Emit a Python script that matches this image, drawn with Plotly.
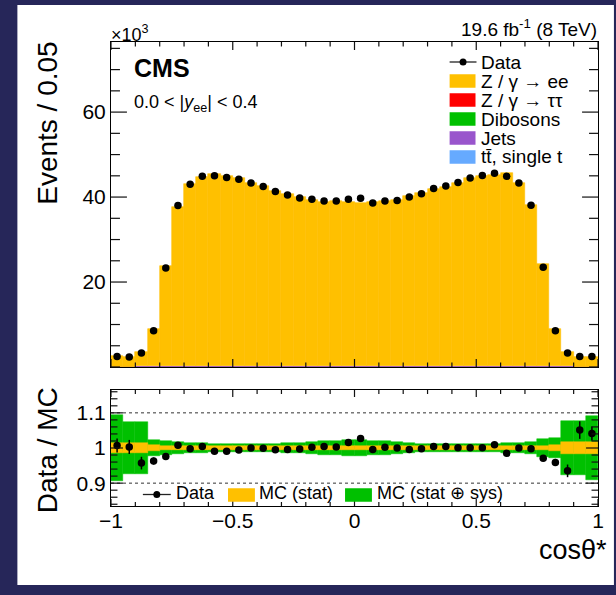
import plotly.graph_objects as go

# ---------------- binning ----------------
n_bins = 40
bin_width = 0.05
bin_centers = [round(-1.0 + bin_width * (i + 0.5), 3) for i in range(n_bins)]

# ---------------- main panel (events, in units of 10^3) ----------------
data_k = [2.50, 2.35, 3.30, 8.55, 23.3, 38.0, 43.0, 44.9, 45.0, 44.6,
          44.2, 43.3, 42.5, 41.3, 40.5, 39.8, 39.5, 39.1, 39.1, 39.5,
          39.7, 38.6, 39.1, 39.2, 40.0, 40.8, 42.0, 42.6, 43.4, 44.5,
          45.1, 45.6, 44.9, 43.3, 38.1, 23.5, 8.55, 3.30, 2.50, 2.50]

mc_total_k = [2.48, 2.34, 3.45, 8.88, 23.87, 37.70, 43.09, 44.72, 45.41, 45.01,
              44.47, 43.30, 42.54, 41.51, 40.66, 39.92, 39.42, 38.94, 38.98, 38.88,
              38.66, 38.76, 39.02, 39.20, 40.16, 40.88, 41.83, 42.43, 43.36, 44.46,
              45.05, 45.19, 45.58, 43.30, 38.18, 24.20, 8.92, 3.53, 2.38, 2.40]

tautau_k = [0.01, 0.01, 0.01, 0.02, 0.03, 0.03, 0.03, 0.03, 0.03, 0.03,
            0.03, 0.03, 0.03, 0.03, 0.03, 0.03, 0.03, 0.03, 0.03, 0.03,
            0.03, 0.03, 0.03, 0.03, 0.03, 0.03, 0.03, 0.03, 0.03, 0.03,
            0.03, 0.03, 0.03, 0.03, 0.03, 0.03, 0.02, 0.01, 0.01, 0.01]
dibosons_k = [0.02, 0.02, 0.03, 0.04, 0.05, 0.06, 0.06, 0.06, 0.06, 0.06,
              0.06, 0.06, 0.06, 0.06, 0.06, 0.06, 0.06, 0.06, 0.06, 0.06,
              0.06, 0.06, 0.06, 0.06, 0.06, 0.06, 0.06, 0.06, 0.06, 0.06,
              0.06, 0.06, 0.06, 0.06, 0.06, 0.05, 0.04, 0.03, 0.02, 0.02]
ttbar_k = [0.03, 0.03, 0.04, 0.05, 0.06, 0.07, 0.07, 0.08, 0.08, 0.08,
           0.08, 0.08, 0.08, 0.08, 0.08, 0.08, 0.08, 0.08, 0.08, 0.08,
           0.08, 0.08, 0.08, 0.08, 0.08, 0.08, 0.08, 0.08, 0.08, 0.08,
           0.08, 0.08, 0.08, 0.08, 0.07, 0.06, 0.05, 0.04, 0.03, 0.03]
jets_k = [0.04, 0.04, 0.04, 0.05, 0.06, 0.06, 0.06, 0.06, 0.06, 0.06,
          0.06, 0.06, 0.06, 0.06, 0.06, 0.06, 0.06, 0.06, 0.06, 0.06,
          0.06, 0.06, 0.06, 0.06, 0.06, 0.06, 0.06, 0.06, 0.06, 0.06,
          0.06, 0.06, 0.06, 0.06, 0.06, 0.06, 0.05, 0.04, 0.04, 0.04]

# ---------------- ratio panel ----------------
ratio = [1.007, 1.003, 0.957, 0.963, 0.976, 1.008, 0.998, 1.004, 0.991, 0.991,
         0.994, 1.000, 0.999, 0.995, 0.996, 0.997, 1.002, 1.004, 1.003, 1.016,
         1.027, 0.996, 1.002, 1.000, 0.996, 0.998, 1.004, 1.004, 1.001, 1.001,
         1.001, 1.009, 0.985, 1.000, 0.998, 0.971, 0.959, 0.935, 1.051, 1.041]
ratio_err = [0.020, 0.020, 0.018, 0.010, 0.006, 0.005, 0.004, 0.004, 0.004, 0.004,
             0.004, 0.004, 0.004, 0.004, 0.004, 0.004, 0.004, 0.004, 0.004, 0.004,
             0.004, 0.004, 0.004, 0.004, 0.004, 0.004, 0.004, 0.004, 0.004, 0.004,
             0.004, 0.004, 0.004, 0.004, 0.005, 0.007, 0.010, 0.018, 0.025, 0.020]
band_sys_hw = [0.094, 0.075, 0.075, 0.024, 0.020, 0.017, 0.015, 0.013, 0.012, 0.011,
               0.011, 0.011, 0.011, 0.012, 0.013, 0.014, 0.016, 0.019, 0.021, 0.022,
               0.022, 0.021, 0.019, 0.016, 0.014, 0.012, 0.011, 0.010, 0.010, 0.010,
               0.010, 0.011, 0.013, 0.015, 0.018, 0.025, 0.028, 0.078, 0.078, 0.090]
band_stat_hw = [0.015, 0.015, 0.015, 0.008, 0.006, 0.005, 0.005, 0.005, 0.005, 0.005,
                0.005, 0.005, 0.005, 0.005, 0.005, 0.005, 0.005, 0.005, 0.005, 0.005,
                0.005, 0.005, 0.005, 0.005, 0.005, 0.005, 0.005, 0.005, 0.005, 0.005,
                0.005, 0.005, 0.005, 0.005, 0.005, 0.007, 0.009, 0.016, 0.016, 0.016]
ratio_ref_lines = [0.9, 1.1]

# ---------------- axis ticks ----------------
x_major = [-1.0, -0.5, 0.0, 0.5, 1.0]
y_main_major = [20, 40, 60]
y_ratio_major = [0.9, 1.0, 1.1]
X_RANGE = [-1, 1]
Y_MAIN_RANGE = [0, 76.5]
Y_RATIO_RANGE = [0.835, 1.165]

# ---------------- style ----------------
FONT = "Liberation Sans"
C_EE = "#ffc000"
C_TT = "#ff0000"
C_DIB = "#00c000"
C_JETS = "#9955cc"
C_TOP = "#66aaff"
C_BAND_SYS = "#00c000"
C_BAND_STAT = "#ffc000"
C_TICK = "#111111"

W, H = 616, 595
ML, MR, MT, MB = 111, 16, 42, 89
PW, PH = W - ML - MR, H - MT - MB
MAIN_TOP, MAIN_BOT = 42, 367
RAT_TOP, RAT_BOT = 390, 506


def fx(px):
    return (px - ML) / PW


def fy(py):
    return (H - MB - py) / PH


fig = go.Figure()

# stacked simulation (bottom to top)
components = [
    ("Z / γ → ττ", tautau_k, C_TT),
    ("Dibosons", dibosons_k, C_DIB),
    ("tt̄, single t", ttbar_k, C_TOP),
    ("Jets", jets_k, C_JETS),
]
base = [0.0] * n_bins
for name, vals, col in components:
    fig.add_trace(go.Bar(x=bin_centers, y=vals, base=base, width=bin_width,
                         marker=dict(color=col, line=dict(width=0)),
                         name=name, showlegend=False, xaxis="x", yaxis="y"))
    base = [b + v for b, v in zip(base, vals)]

zee_k = [t - b for t, b in zip(mc_total_k, base)]
fig.add_trace(go.Bar(x=bin_centers, y=zee_k, base=base, width=bin_width,
                     marker=dict(color=C_EE, line=dict(color=C_EE, width=0.6)),
                     name="Z / γ → ee", showlegend=False, xaxis="x", yaxis="y"))

fig.add_trace(go.Scatter(x=bin_centers, y=data_k, mode="markers",
                         marker=dict(color="black", size=7.5),
                         name="Data", showlegend=False, xaxis="x", yaxis="y"))

# ratio bands
fig.add_trace(go.Bar(x=bin_centers, y=[2 * h for h in band_sys_hw],
                     base=[1 - h for h in band_sys_hw], width=bin_width,
                     marker=dict(color=C_BAND_SYS, line=dict(color=C_BAND_SYS, width=0.5)),
                     showlegend=False, xaxis="x2", yaxis="y2"))
fig.add_trace(go.Bar(x=bin_centers, y=[2 * h for h in band_stat_hw],
                     base=[1 - h for h in band_stat_hw], width=bin_width,
                     marker=dict(color=C_BAND_STAT, line=dict(color=C_BAND_STAT, width=0.5)),
                     showlegend=False, xaxis="x2", yaxis="y2"))
fig.add_trace(go.Scatter(x=bin_centers, y=ratio, mode="markers",
                         marker=dict(color="black", size=7.5),
                         error_y=dict(type="data", array=ratio_err, thickness=1.5,
                                      width=0, color="black"),
                         showlegend=False, xaxis="x2", yaxis="y2"))

shapes = []
# white page behind the canvas
shapes.append(dict(type="rect", xref="paper", yref="paper",
                   x0=fx(17), x1=fx(W), y0=fy(585), y1=fy(5),
                   fillcolor="white", line=dict(width=0), layer="below"))
# dotted reference lines in the ratio panel
for v in ratio_ref_lines:
    shapes.append(dict(type="line", xref="x2", yref="y2", x0=-1, x1=1, y0=v, y1=v,
                       line=dict(color="#333333", width=1, dash="dot"), layer="above"))


def px_line(x0, y0, x1, y1):
    shapes.append(dict(type="line", xref="paper", yref="paper",
                       x0=fx(x0), x1=fx(x1), y0=fy(y0), y1=fy(y1),
                       line=dict(color=C_TICK, width=1.2)))


def frame_xticks(top_px, bot_px, step, majors, len_major, len_minor):
    """Inside ticks on the bottom and top edges of a panel."""
    n = int(round((X_RANGE[1] - X_RANGE[0]) / step))
    for i in range(n + 1):
        v = round(X_RANGE[0] + i * step, 4)
        ln = len_major if any(abs(v - m) < 1e-9 for m in majors) else len_minor
        xp = ML + (v - X_RANGE[0]) / (X_RANGE[1] - X_RANGE[0]) * PW
        px_line(xp, bot_px, xp, bot_px - ln)
        px_line(xp, top_px, xp, top_px + ln)


def frame_yticks(top_px, bot_px, rng, start, step, majors, len_major, len_minor):
    """Inside ticks on the left and right edges of a panel."""
    v = start
    while v <= rng[1] + 1e-9:
        vv = round(v, 4)
        if vv >= rng[0]:
            ln = len_major if any(abs(vv - m) < 1e-9 for m in majors) else len_minor
            yp = bot_px - (vv - rng[0]) / (rng[1] - rng[0]) * (bot_px - top_px)
            px_line(ML, yp, ML + ln, yp)
            px_line(ML + PW, yp, ML + PW - ln, yp)
        v += step


frame_xticks(MAIN_TOP, MAIN_BOT, 0.1, x_major, 8, 4.5)
frame_xticks(RAT_TOP, RAT_BOT, 0.1, x_major, 7, 4)
frame_yticks(MAIN_TOP, MAIN_BOT, Y_MAIN_RANGE, 0, 5, y_main_major, 16, 9)
frame_yticks(RAT_TOP, RAT_BOT, Y_RATIO_RANGE, 0.84, 0.02, y_ratio_major, 12, 6.5)

annotations = []


def text(px, py, s, size, xanchor="left", yanchor="middle", angle=0, **kw):
    annotations.append(dict(xref="paper", yref="paper", x=fx(px), y=fy(py), text=s,
                            showarrow=False, xanchor=xanchor, yanchor=yanchor,
                            textangle=angle, font=dict(family=FONT, size=size, color="black"),
                            **kw))


def legend_box(x0, x1, yc, h, col):
    shapes.append(dict(type="rect", xref="paper", yref="paper",
                       x0=fx(x0), x1=fx(x1), y0=fy(yc + h / 2), y1=fy(yc - h / 2),
                       fillcolor=col, line=dict(width=0)))


def legend_data(x0, x1, yc, r=3.5):
    shapes.append(dict(type="line", xref="paper", yref="paper",
                       x0=fx(x0), x1=fx(x1), y0=fy(yc), y1=fy(yc),
                       line=dict(color="#222222", width=1.3)))
    xc = (x0 + x1) / 2
    shapes.append(dict(type="circle", xref="paper", yref="paper",
                       x0=fx(xc - r), x1=fx(xc + r), y0=fy(yc + r), y1=fy(yc - r),
                       fillcolor="black", line=dict(width=0)))


# main legend
leg_rows = [62, 81, 100, 119, 138, 157]
legend_data(451, 478, leg_rows[0])
text(481, leg_rows[0], "Data", 19)
leg_items = [("Z / γ → ee", C_EE), ("Z / γ → ττ", C_TT), ("Dibosons", C_DIB),
             ("Jets", C_JETS), ("tt̄, single t", C_TOP)]
for (lbl, col), yc in zip(leg_items, leg_rows[1:]):
    legend_box(451, 477, yc, 13.5, col)
    text(481, yc, lbl, 19)

# ratio legend
legend_data(143, 171, 494.5)
text(174, 493, "Data", 18)
legend_box(228.5, 255.5, 495, 13.5, C_BAND_STAT)
text(258, 493, "MC (stat)", 18)
legend_box(346, 373, 495, 13.5, C_BAND_SYS)
text(376, 493, "MC (stat ⊕ sys)", 18)

# labels
text(109, 33, "×10<sup>3</sup>", 18)
text(601, 28, "19.6 fb<sup>-1</sup> (8 TeV)", 19, xanchor="right")
text(132, 68, "<b>CMS</b>", 25)
text(132, 103, "0.0 < |<i>y</i><sub>ee</sub>| < 0.4", 18)

# axis titles
text(47, 40, "Events / 0.05", 28, xanchor="center", yanchor="top", angle=-90)
text(47, 385, "Data / MC", 28, xanchor="center", yanchor="top", angle=-90)
text(611, 550, "cosθ*", 27, xanchor="right", yanchor="middle")

axis_common = dict(showline=True, linecolor="black", linewidth=1, mirror=True,
                   ticks="", showgrid=False, zeroline=False,
                   tickfont=dict(family=FONT, size=21, color="black"))

fig.update_layout(
    width=W, height=H,
    margin=dict(l=ML, r=MR, t=MT, b=MB),
    paper_bgcolor="#262659",
    plot_bgcolor="white",
    barmode="overlay",
    bargap=0,
    showlegend=False,
    shapes=shapes,
    annotations=annotations,
    xaxis=dict(domain=[0, 1], anchor="y", range=X_RANGE, matches="x2",
               tickvals=x_major, showticklabels=False, **axis_common),
    yaxis=dict(domain=[(H - MB - MAIN_BOT) / PH, 1], anchor="x", range=Y_MAIN_RANGE,
               tickvals=y_main_major, **axis_common),
    xaxis2=dict(domain=[0, 1], anchor="y2", range=X_RANGE,
                tickvals=x_major, ticktext=["−1", "−0.5", "0", "0.5", "1"],
                ticklabelstandoff=-4, **axis_common),
    yaxis2=dict(domain=[0, (H - MB - RAT_TOP) / PH], anchor="x2", range=Y_RATIO_RANGE,
                tickvals=y_ratio_major, ticktext=["0.9", "1", "1.1"], **axis_common),
)

fig.write_html("out.html")
